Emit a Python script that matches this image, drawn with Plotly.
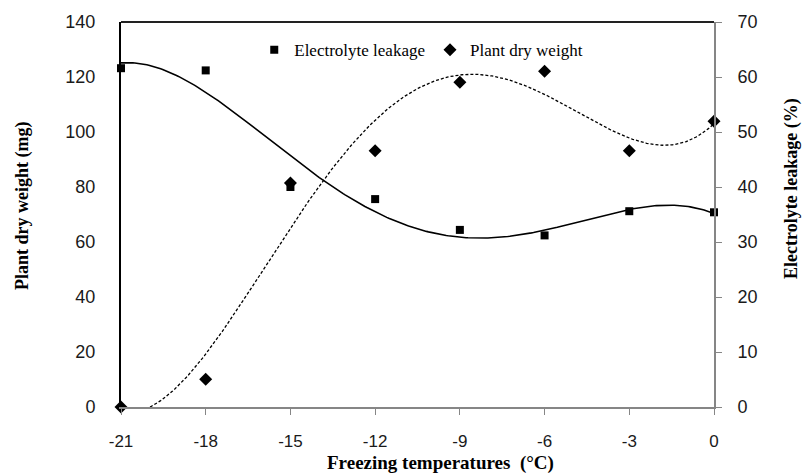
import numpy as np
import plotly.graph_objects as go

# Data
temperatures = [-21, -18, -15, -12, -9, -6, -3, 0]
electrolyte_leakage = [61.6, 61.2, 40.0, 37.8, 32.2, 31.2, 35.6, 35.4]   # %
plant_dry_weight = [0.0, 10.1, 81.5, 93.2, 118.1, 122.1, 93.2, 103.9]   # mg

x_ticks = [-21, -18, -15, -12, -9, -6, -3, 0]
left_ticks = [0, 20, 40, 60, 80, 100, 120, 140]
right_ticks = [0, 10, 20, 30, 40, 50, 60, 70]

x_title = "Freezing temperatures  (°C)"
left_title = "Plant dry weight (mg)"
right_title = "Electrolyte leakage (%)"

# Polynomial (order 4) trend lines, as in the original spreadsheet chart
xs = np.linspace(min(temperatures), max(temperatures), 300)
el_fit = np.polyval(np.polyfit(temperatures, electrolyte_leakage, 4), xs)
dw_fit = np.polyval(np.polyfit(temperatures, plant_dry_weight, 4), xs)

fig = go.Figure()

fig.add_trace(go.Scatter(x=xs, y=el_fit, mode="lines", yaxis="y2",
                         line=dict(color="black", width=1.6),
                         showlegend=False, hoverinfo="skip"))
fig.add_trace(go.Scatter(x=xs, y=dw_fit, mode="lines", yaxis="y",
                         line=dict(color="black", width=1.3, dash="3px,2px"),
                         showlegend=False, hoverinfo="skip"))

fig.add_trace(go.Scatter(x=temperatures, y=electrolyte_leakage, mode="markers",
                         name="Electrolyte leakage", yaxis="y2", cliponaxis=False,
                         marker=dict(symbol="square", size=8, color="black")))
fig.add_trace(go.Scatter(x=temperatures, y=plant_dry_weight, mode="markers",
                         name="Plant dry weight", yaxis="y", cliponaxis=False,
                         marker=dict(symbol="diamond", size=10, color="black")))

tick_font = dict(family="Liberation Sans, Arial, sans-serif", size=18, color="#1a1a1a")
x_tick_font = dict(family="Liberation Sans, Arial, sans-serif", size=17, color="#1a1a1a")
serif = "Liberation Serif, Times New Roman, serif"

fig.update_layout(
    width=806, height=475,
    margin=dict(l=121, r=92, t=22, b=68),
    paper_bgcolor="white", plot_bgcolor="white",
    showlegend=True,
    legend=dict(orientation="h", x=0.2247, y=0.927, xanchor="left", yanchor="middle",
                font=dict(family=serif, size=17, color="black"),
                bgcolor="rgba(0,0,0,0)", itemsizing="trace"),
    xaxis=dict(range=[-21, 0], tickvals=x_ticks, ticktext=[str(t) for t in x_ticks],
               automargin=False,
               showgrid=False, zeroline=False, showline=True, linecolor="#868686", linewidth=2,
               ticks="outside", ticklen=6, tickcolor="#868686", tickwidth=1,
               tickfont=x_tick_font, ticklabelstandoff=12),
    yaxis=dict(range=[0, 140], tickvals=left_ticks, showgrid=False, zeroline=False,
               automargin=False,
               showline=True, linecolor="black", linewidth=2, ticks="",
               tickfont=tick_font, ticklabelstandoff=20),
    yaxis2=dict(range=[0, 70], tickvals=right_ticks, overlaying="y", side="right",
                automargin=False,
                showgrid=False, zeroline=False, showline=True, linecolor="#868686", linewidth=2,
                ticks="outside", ticklen=6, tickcolor="#868686", tickwidth=1,
                tickfont=tick_font, ticklabelstandoff=12),
    shapes=[dict(type="line", xref="paper", yref="paper", x0=0, x1=1, y0=1, y1=1,
                 line=dict(color="#222", width=2))],
    annotations=[
        dict(text="<b>" + x_title + "</b>", xref="paper", yref="paper",
             x=0.538, y=-0.1455, xanchor="center", yanchor="middle", showarrow=False,
             font=dict(family=serif, size=19, color="black")),
        dict(text="<b>" + left_title + "</b>", xref="paper", yref="paper",
             x=-0.167, y=0.522, xanchor="center", yanchor="middle", showarrow=False,
             textangle=-90, font=dict(family=serif, size=18, color="black")),
        dict(text="<b>" + right_title + "</b>", xref="paper", yref="paper",
             x=1.1315, y=0.569, xanchor="center", yanchor="middle", showarrow=False,
             textangle=-90, font=dict(family=serif, size=18, color="black")),
    ],
)

fig.write_html("out.html", config={"displayModeBar": False},
               post_script="document.body.style.margin='0px';document.body.style.overflow='hidden';")
